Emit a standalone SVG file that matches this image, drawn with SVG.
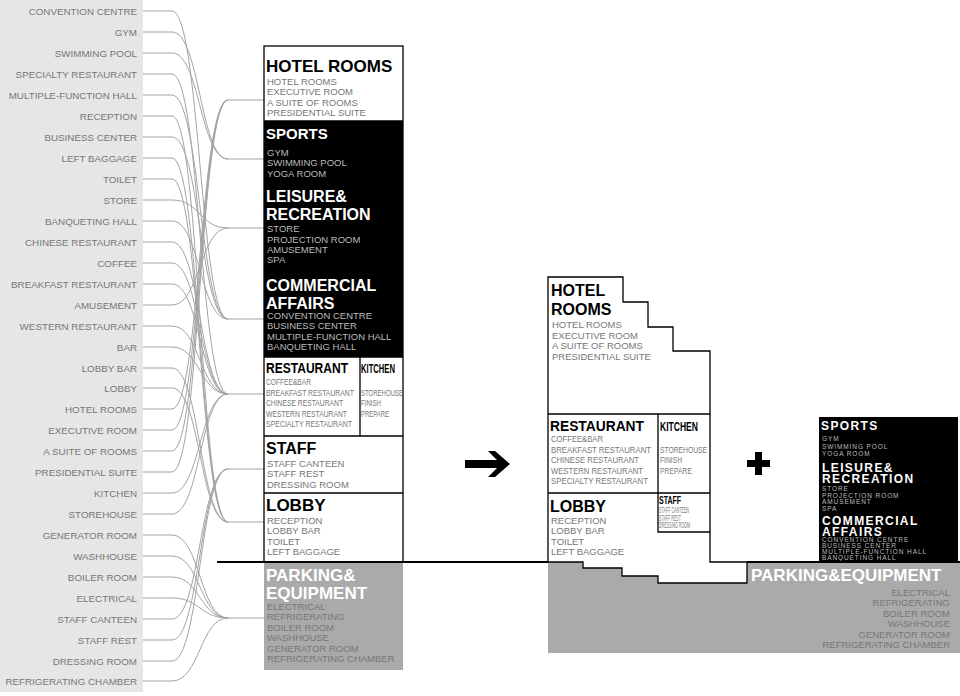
<svg xmlns="http://www.w3.org/2000/svg" width="960" height="696" viewBox="0 0 960 696">
<style>
text{font-family:"Liberation Sans",Arial,sans-serif}
.lab{font-size:9.8px;fill:#777;text-anchor:end}
.c path{fill:none;stroke:#a3a3a3;stroke-width:1}
.h{font-weight:bold;fill:#000}
.hw{font-weight:bold;fill:#fff}
.it{font-size:9.5px;fill:#777}
.itb{font-size:9.5px;fill:#bbb}
.cn{font-size:8.5px;fill:#777}
.ol{fill:none;stroke:#000;stroke-width:1.3}
.ex{font-size:6.5px;fill:#bbb;letter-spacing:0.9px}
.exh{font-weight:bold;fill:#fff;font-size:12px;letter-spacing:1.4px}
</style>
<rect x="0" y="0" width="143" height="692" fill="#e6e6e6"/>
<g id="list">
<text class="lab" x="137" y="15">CONVENTION  CENTRE</text>
<text class="lab" x="137" y="36">GYM</text>
<text class="lab" x="137" y="57">SWIMMING POOL</text>
<text class="lab" x="137" y="78">SPECIALTY RESTAURANT</text>
<text class="lab" x="137" y="99">MULTIPLE-FUNCTION HALL</text>
<text class="lab" x="137" y="120">RECEPTION</text>
<text class="lab" x="137" y="141">BUSINESS CENTER</text>
<text class="lab" x="137" y="162">LEFT BAGGAGE</text>
<text class="lab" x="137" y="183">TOILET</text>
<text class="lab" x="137" y="204">STORE</text>
<text class="lab" x="137" y="225">BANQUETING HALL</text>
<text class="lab" x="137" y="246">CHINESE RESTAURANT</text>
<text class="lab" x="137" y="267">COFFEE</text>
<text class="lab" x="137" y="288">BREAKFAST RESTAURANT</text>
<text class="lab" x="137" y="309">AMUSEMENT</text>
<text class="lab" x="137" y="330">WESTERN RESTAURANT</text>
<text class="lab" x="137" y="351">BAR</text>
<text class="lab" x="137" y="372">LOBBY BAR</text>
<text class="lab" x="137" y="392">LOBBY</text>
<text class="lab" x="137" y="413">HOTEL ROOMS</text>
<text class="lab" x="137" y="434">EXECUTIVE ROOM</text>
<text class="lab" x="137" y="455">A SUITE OF ROOMS</text>
<text class="lab" x="137" y="476">PRESIDENTIAL SUITE</text>
<text class="lab" x="137" y="497">KITCHEN</text>
<text class="lab" x="137" y="518">STOREHOUSE</text>
<text class="lab" x="137" y="539">GENERATOR ROOM</text>
<text class="lab" x="137" y="560">WASHHOUSE</text>
<text class="lab" x="137" y="581">BOILER ROOM</text>
<text class="lab" x="137" y="602">ELECTRICAL</text>
<text class="lab" x="137" y="623">STAFF CANTEEN</text>
<text class="lab" x="137" y="644">STAFF REST</text>
<text class="lab" x="137" y="665">DRESSING ROOM</text>
<text class="lab" x="137" y="685">REFRIGERATING CHAMBER</text>
</g>
<g id="connectors" class="c">
<path d="M143 11H172C200 11 200 319 228 319H264"/>
<path d="M143 32H172C200 32 200 159 228 159H264"/>
<path d="M143 53H172C200 53 200 159 228 159"/>
<path d="M143 74H172C200 74 200 394 228 394H264"/>
<path d="M143 95H172C200 95 200 319 228 319"/>
<path d="M143 116H172C200 116 200 522 228 522H264"/>
<path d="M143 137H172C200 137 200 319 228 319"/>
<path d="M143 158H172C200 158 200 522 228 522"/>
<path d="M143 179H172C200 179 200 522 228 522"/>
<path d="M143 200H172C200 200 200 228 228 228H264"/>
<path d="M143 221H172C200 221 200 319 228 319"/>
<path d="M143 242H172C200 242 200 394 228 394"/>
<path d="M143 263H172C200 263 200 394 228 394"/>
<path d="M143 284H172C200 284 200 394 228 394"/>
<path d="M143 305H172C200 305 200 228 228 228"/>
<path d="M143 326H172C200 326 200 394 228 394"/>
<path d="M143 347H172C200 347 200 394 228 394"/>
<path d="M143 368H172C200 368 200 522 228 522"/>
<path d="M143 388H172C200 388 200 522 228 522"/>
<path d="M143 409H172C200 409 200 100 228 100H264"/>
<path d="M143 430H172C200 430 200 100 228 100"/>
<path d="M143 451H172C200 451 200 100 228 100"/>
<path d="M143 472H172C200 472 200 100 228 100"/>
<path d="M143 493H172C200 493 200 394 228 394"/>
<path d="M143 514H172C200 514 200 394 228 394"/>
<path d="M143 535H172C200 535 200 618 228 618H264"/>
<path d="M143 556H172C200 556 200 618 228 618"/>
<path d="M143 577H172C200 577 200 618 228 618"/>
<path d="M143 598H172C200 598 200 618 228 618"/>
<path d="M143 619H172C200 619 200 469 228 469H264"/>
<path d="M143 640H172C200 640 200 469 228 469"/>
<path d="M143 661H172C200 661 200 469 228 469"/>
<path d="M143 681H172C200 681 200 618 228 618"/>
</g>
<g id="tall">
<rect x="264" y="121" width="139" height="236" fill="#000"/>
<rect x="264" y="562" width="139" height="108" fill="#aaa"/>
<rect x="264" y="46" width="139" height="516" class="ol"/>
<path class="ol" d="M264 121H403M264 357H403M264 436H403M264 493H403M360 357V436"/>
<text x="266" y="72" font-size="17" fill="#000" style="font-weight:600">HOTEL ROOMS</text>
<text class="it" x="267" y="85">HOTEL ROOMS</text>
<text class="it" x="267" y="95">EXECUTIVE ROOM</text>
<text class="it" x="267" y="106">A SUITE OF ROOMS</text>
<text class="it" x="267" y="116">PRESIDENTIAL SUITE</text>
<text class="hw" x="266" y="139" font-size="15">SPORTS</text>
<text class="itb" x="267" y="156">GYM</text>
<text class="itb" x="267" y="166">SWIMMING POOL</text>
<text class="itb" x="267" y="177">YOGA ROOM</text>
<text class="hw" x="266" y="202" font-size="16">LEISURE&amp;</text>
<text class="hw" x="266" y="220" font-size="16">RECREATION</text>
<text class="itb" x="267" y="232">STORE</text>
<text class="itb" x="267" y="243">PROJECTION ROOM</text>
<text class="itb" x="267" y="253">AMUSEMENT</text>
<text class="itb" x="267" y="263">SPA</text>
<text class="hw" x="266" y="291" font-size="16">COMMERCIAL</text>
<text class="hw" x="266" y="309" font-size="16">AFFAIRS</text>
<text class="itb" x="267" y="319">CONVENTION  CENTRE</text>
<text class="itb" x="267" y="329">BUSINESS CENTER</text>
<text class="itb" x="267" y="340">MULTIPLE-FUNCTION HALL</text>
<text class="itb" x="267" y="350">BANQUETING HALL</text>
<text class="h" x="266" y="373" font-size="14" textLength="82" lengthAdjust="spacingAndGlyphs">RESTAURANT</text>
<text class="cn" x="266" y="385" textLength="45" lengthAdjust="spacingAndGlyphs">COFFEE&amp;BAR</text>
<text class="cn" x="266" y="396" textLength="88" lengthAdjust="spacingAndGlyphs">BREAKFAST RESTAURANT</text>
<text class="cn" x="266" y="406" textLength="77" lengthAdjust="spacingAndGlyphs">CHINESE RESTAURANT</text>
<text class="cn" x="266" y="417" textLength="81" lengthAdjust="spacingAndGlyphs">WESTERN RESTAURANT</text>
<text class="cn" x="266" y="427" textLength="86" lengthAdjust="spacingAndGlyphs">SPECIALTY RESTAURANT</text>
<text class="h" x="361" y="373" font-size="12" textLength="34" lengthAdjust="spacingAndGlyphs">KITCHEN</text>
<text class="cn" x="361" y="396" textLength="42" lengthAdjust="spacingAndGlyphs">STOREHOUSE</text>
<text class="cn" x="361" y="406" textLength="20" lengthAdjust="spacingAndGlyphs">FINISH</text>
<text class="cn" x="361" y="417" textLength="28" lengthAdjust="spacingAndGlyphs">PREPARE</text>
<text class="h" x="266" y="454" font-size="16">STAFF</text>
<text class="it" x="267" y="467">STAFF CANTEEN</text>
<text class="it" x="267" y="477">STAFF REST</text>
<text class="it" x="267" y="488">DRESSING ROOM</text>
<text x="266" y="511" font-size="17" fill="#000" style="font-weight:600">LOBBY</text>
<text class="it" x="267" y="524">RECEPTION</text>
<text class="it" x="267" y="534">LOBBY BAR</text>
<text class="it" x="267" y="545">TOILET</text>
<text class="it" x="267" y="555">LEFT BAGGAGE</text>
<text class="hw" x="266" y="581" font-size="17">PARKING&amp;</text>
<text class="hw" x="266" y="599" font-size="17">EQUIPMENT</text>
<text class="it" x="267" y="610" fill="#888">ELECTRICAL</text>
<text class="it" x="267" y="620">REFRIGERATING</text>
<text class="it" x="267" y="631">BOILER ROOM</text>
<text class="it" x="267" y="641">WASHHOUSE</text>
<text class="it" x="267" y="652">GENERATOR ROOM</text>
<text class="it" x="267" y="662">REFRIGERATING CHAMBER</text>
</g>
<g id="middle">
<rect x="548" y="562" width="412" height="91" fill="#aaa"/>
<path fill="#fff" stroke="#000" stroke-width="1.3" d="M548 277H623V302H648V327H673V351H710V562H747V583H658V576H622V568H583V562H548Z"/>
<path class="ol" d="M548 414H710M548 493H710M658 414V532H710"/>
<text class="h" x="551" y="296" font-size="16">HOTEL</text>
<text class="h" x="551" y="315" font-size="16">ROOMS</text>
<text class="it" x="552" y="328">HOTEL ROOMS</text>
<text class="it" x="552" y="339">EXECUTIVE ROOM</text>
<text class="it" x="552" y="349">A SUITE OF ROOMS</text>
<text class="it" x="552" y="360">PRESIDENTIAL SUITE</text>
<text class="h" x="550" y="431" font-size="14" textLength="94" lengthAdjust="spacingAndGlyphs">RESTAURANT</text>
<text class="cn" x="551" y="442" textLength="52" lengthAdjust="spacingAndGlyphs">COFFEE&amp;BAR</text>
<text class="cn" x="551" y="453" textLength="100" lengthAdjust="spacingAndGlyphs">BREAKFAST RESTAURANT</text>
<text class="cn" x="551" y="463" textLength="88" lengthAdjust="spacingAndGlyphs">CHINESE RESTAURANT</text>
<text class="cn" x="551" y="474" textLength="92" lengthAdjust="spacingAndGlyphs">WESTERN RESTAURANT</text>
<text class="cn" x="551" y="484" textLength="97" lengthAdjust="spacingAndGlyphs">SPECIALTY RESTAURANT</text>
<text class="h" x="660" y="431" font-size="12" textLength="38" lengthAdjust="spacingAndGlyphs">KITCHEN</text>
<text class="cn" x="660" y="453" textLength="47" lengthAdjust="spacingAndGlyphs">STOREHOUSE</text>
<text class="cn" x="660" y="463" textLength="22" lengthAdjust="spacingAndGlyphs">FINISH</text>
<text class="cn" x="660" y="474" textLength="32" lengthAdjust="spacingAndGlyphs">PREPARE</text>
<text class="h" x="659" y="504" font-size="10" textLength="22" lengthAdjust="spacingAndGlyphs">STAFF</text>
<text class="cn" x="659" y="513" font-size="5" textLength="30" lengthAdjust="spacingAndGlyphs">STAFF CANTEEN</text>
<text class="cn" x="659" y="521" font-size="5" textLength="22" lengthAdjust="spacingAndGlyphs">STAFF REST</text>
<text class="cn" x="659" y="528" font-size="5" textLength="31" lengthAdjust="spacingAndGlyphs">DRESSING ROOM</text>
<text x="550" y="512" font-size="16" fill="#000" style="font-weight:600">LOBBY</text>
<text class="it" x="551" y="524">RECEPTION</text>
<text class="it" x="551" y="534">LOBBY BAR</text>
<text class="it" x="551" y="545">TOILET</text>
<text class="it" x="551" y="555">LEFT BAGGAGE</text>
<text class="hw" x="751" y="581" font-size="17">PARKING&amp;EQUIPMENT</text>
<g class="it" text-anchor="end" fill="#888">
<text x="950" y="596">ELECTRICAL</text>
<text x="950" y="606">REFRIGERATING</text>
<text x="950" y="617">BOILER ROOM</text>
<text x="950" y="627">WASHHOUSE</text>
<text x="950" y="638">GENERATOR ROOM</text>
<text x="950" y="648">REFRIGERATING CHAMBER</text>
</g>
</g>
<g id="right">
<rect x="819" y="417" width="139" height="145" fill="#000"/>
<text class="exh" x="821" y="430">SPORTS</text>
<text class="ex" x="822" y="441">GYM</text>
<text class="ex" x="822" y="449">SWIMMING POOL</text>
<text class="ex" x="822" y="456">YOGA ROOM</text>
<text class="exh" x="822" y="472">LEISURE&amp;</text>
<text class="exh" x="822" y="483">RECREATION</text>
<text class="ex" x="822" y="491">STORE</text>
<text class="ex" x="822" y="497.5">PROJECTION ROOM</text>
<text class="ex" x="822" y="504">AMUSEMENT</text>
<text class="ex" x="822" y="510.5">SPA</text>
<text class="exh" x="822" y="525">COMMERCIAL</text>
<text class="exh" x="822" y="536">AFFAIRS</text>
<text class="ex" x="822" y="542">CONVENTION  CENTRE</text>
<text class="ex" x="822" y="548">BUSINESS CENTER</text>
<text class="ex" x="822" y="554">MULTIPLE-FUNCTION HALL</text>
<text class="ex" x="822" y="560">BANQUETING HALL</text>
</g>
<path d="M217 562H548M747 562H960" stroke="#000" stroke-width="2"/>
<g id="symbols" fill="#000">
<path d="M465 460H497L488 451H495L510 464L495 477H488L497 468H465Z"/>
<path d="M755 452H762V460H770V467H762V475H755V467H747V460H755Z"/>
</g>
</svg>
